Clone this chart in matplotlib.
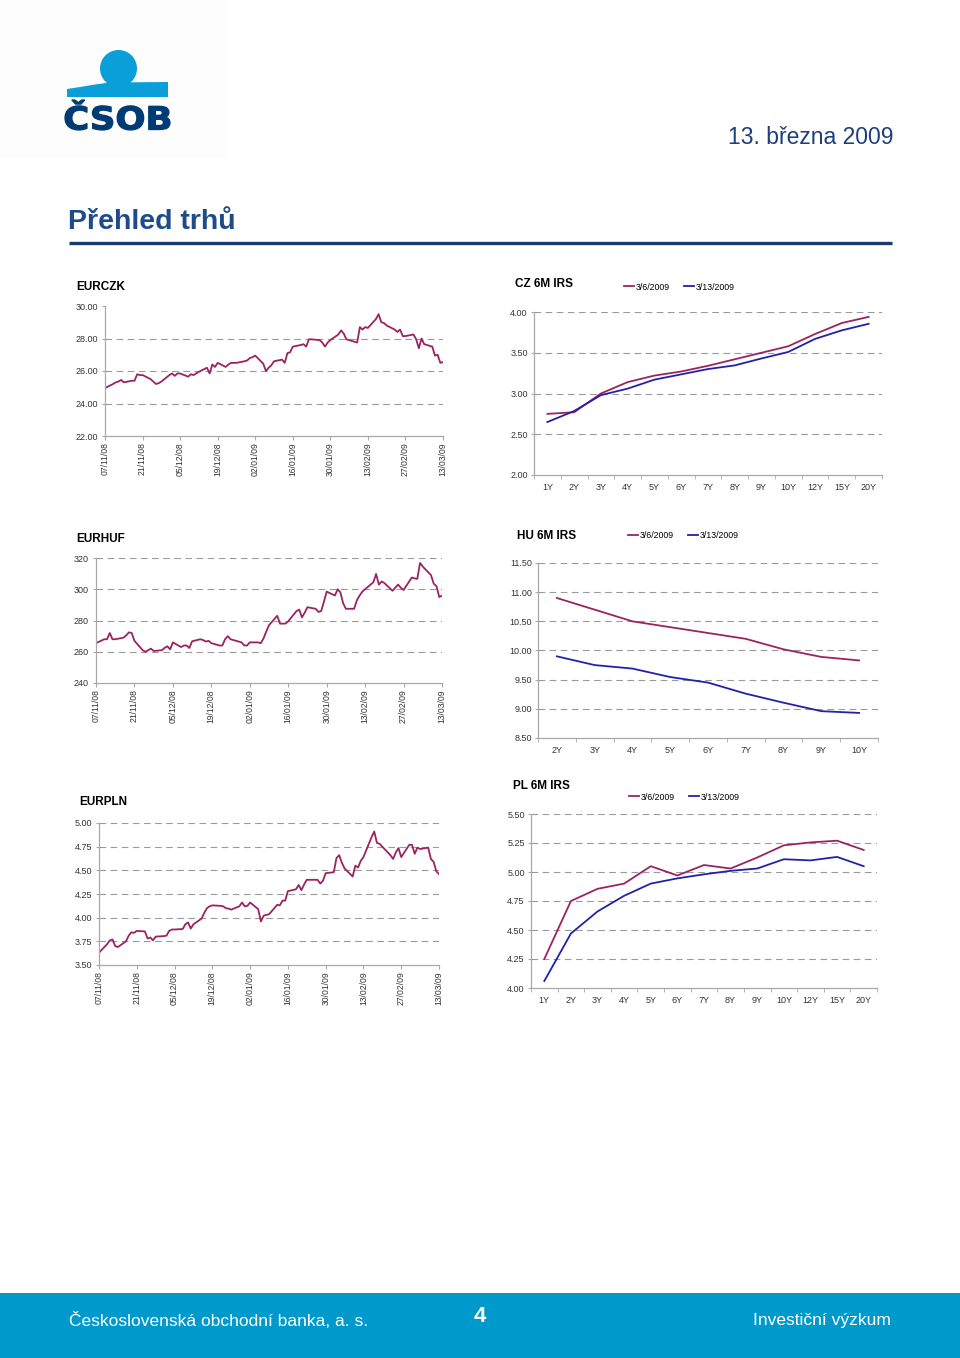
import matplotlib
matplotlib.use("Agg")
import matplotlib.pyplot as plt
from matplotlib.patches import Rectangle, Circle, Polygon, PathPatch
from matplotlib.textpath import TextPath
from matplotlib.font_manager import FontProperties
from matplotlib.transforms import Affine2D
import numpy as np
import pandas as pd

plt.rcParams["font.family"] = ["Liberation Sans", "DejaVu Sans"]

W, H = 960, 1358
RED = "#9b2460"
BLUE = "#2222a8"
NAVY = "#1c3f7c"
GRID = "#9a9a9a"
SPINE = "#a8a8a8"
TXT = "#333333"

# ---- data -------------------------------------------------------------
date_labels = ["07/11/08", "21/11/08", "05/12/08", "19/12/08", "02/01/09",
               "16/01/09", "30/01/09", "13/02/09", "27/02/09", "13/03/09"]
days = pd.bdate_range("2008-11-07", "2009-03-13")

eurczk = [24.95,
          25.2, 25.3, 25.35, 25.45, 25.3,
          25.4, 25.4, 25.8, 25.75, 25.75,
          25.5, 25.35, 25.2, 25.25, 25.35,
          25.75, 25.85, 25.7, 25.85, 25.85,
          25.65, 25.8, 25.75, 25.85, 25.95,
          26.2, 25.85, 26.4, 26.25, 26.5,
          26.25, 26.4, 26.5, 26.5, 26.5,
          26.6, 26.65, 26.8, 26.85, 26.95,
          26.45, 26.0, 26.2, 26.35, 26.6,
          26.7, 26.5, 27.1, 27.15, 27.5,
          27.6, 27.65, 27.5, 27.95, 27.95,
          27.9, 27.75, 27.5, 27.75, 27.9,
          28.25, 28.5, 28.3, 27.95, 27.9,
          27.75, 28.7, 28.55, 28.7, 28.65,
          29.2, 29.5, 29.0, 28.95, 28.8,
          28.55, 28.4, 28.55, 28.15, 28.15,
          28.25, 27.95, 27.4, 28.0, 27.65,
          27.5, 26.95, 27.0, 26.5, 26.55]

eurhuf = [265.5,
          268, 268, 272, 268, 268,
          269, 270.5, 272.4, 272, 267,
          261, 260, 261, 262, 260.5,
          261, 262.5, 263.5, 261.5, 266,
          263, 264, 264, 262.4, 266.7,
          268, 267.5, 266.5, 267, 265.5,
          264, 264, 268, 270, 268,
          266.5, 266, 264, 264, 266,
          266, 265.5, 268.5, 273, 277,
          283, 278, 278, 278, 279.5,
          286, 287, 282, 285, 288.5,
          287.5, 285.5, 286, 292, 298.5,
          296, 300, 298, 291, 287.5,
          287.5, 293, 296, 298.5, 300,
          304.5, 309.8, 303, 305, 304,
          299, 301, 303, 301, 299.5,
          307.5, 307, 306.6, 316.8, 314.5,
          309, 303.5, 302, 295, 295.9]

eurpln = [3.63,
          3.72, 3.76, 3.77, 3.70, 3.69,
          3.75, 3.81, 3.845, 3.84, 3.86,
          3.855, 3.78, 3.79, 3.76, 3.80,
          3.805, 3.81, 3.86, 3.875, 3.875,
          3.88, 3.93, 3.95, 3.885, 3.93,
          3.99, 4.05, 4.10, 4.12, 4.13,
          4.125, 4.12, 4.10, 4.095, 4.085,
          4.12, 4.16, 4.12, 4.125, 4.16,
          4.09, 3.96, 4.02, 4.03, 4.035,
          4.135, 4.13, 4.18, 4.18, 4.28,
          4.30, 4.345, 4.29, 4.35, 4.40,
          4.40, 4.40, 4.36, 4.39, 4.47,
          4.48, 4.63, 4.66, 4.58, 4.52,
          4.435, 4.55, 4.53, 4.60, 4.64,
          4.85, 4.91, 4.79, 4.78, 4.75,
          4.66, 4.62, 4.69, 4.735, 4.64,
          4.77, 4.77, 4.675, 4.74, 4.725,
          4.74, 4.62, 4.59, 4.49, 4.46]

series_names = ["3/6/2009", "3/13/2009"]

cz_tenors = ["1Y", "2Y", "3Y", "4Y", "5Y", "6Y", "7Y", "8Y", "9Y", "10Y", "12Y", "15Y", "20Y"]
cz_0306 = [2.75, 2.77, 3.00, 3.14, 3.22, 3.27, 3.34, 3.42, 3.50, 3.58, 3.73, 3.865, 3.94]
cz_0313 = [2.65, 2.785, 2.98, 3.06, 3.17, 3.235, 3.30, 3.345, 3.43, 3.51, 3.67, 3.775, 3.855]

hu_tenors = ["2Y", "3Y", "4Y", "5Y", "6Y", "7Y", "8Y", "9Y", "10Y"]
hu_0306 = [10.90, 10.70, 10.50, 10.40, 10.30, 10.20, 10.02, 9.89, 9.83]
hu_0313 = [9.90, 9.75, 9.69, 9.545, 9.45, 9.26, 9.105, 8.96, 8.93]

pl_tenors = cz_tenors
pl_0306 = [4.25, 4.75, 4.855, 4.90, 5.05, 4.97, 5.06, 5.03, 5.125, 5.23, 5.255, 5.27, 5.19]
pl_0313 = [4.06, 4.47, 4.66, 4.795, 4.90, 4.945, 4.98, 5.01, 5.03, 5.11, 5.10, 5.13, 5.05]


def px(x0, y0, x1, y1):
    return [x0 / W, 1 - y1 / H, (x1 - x0) / W, (y1 - y0) / H]


fig = plt.figure(figsize=(W / 100, H / 100), dpi=100)

# ---- page decoration --------------------------------------------------
bg = fig.add_axes([0, 0, 1, 1])
bg.set_xlim(0, W)
bg.set_ylim(H, 0)
bg.axis("off")

# faint box behind the logo
bg.add_patch(Rectangle((0, 0), 226, 158, color="#fdfdfd", lw=0))

bg.add_patch(Circle((118.5, 68.5), 18.5, color="#0a9fd8", lw=0))
bg.add_patch(Polygon([(67, 89), (80, 87), (95, 84.5), (110, 82.5), (168, 82),
                      (168, 97), (67, 97)], closed=True, color="#0a9fd8", lw=0))

# logo lettering stretched into its box (x 65-170, y 100-130)
tp = TextPath((0, 0), "ČSOB", size=1,
              prop=FontProperties(family="DejaVu Sans", weight="bold"))
ext = tp.get_extents()
sx = (170 - 65) / ext.width
sy = (130 - 100) / ext.height
tr = Affine2D().translate(-ext.x0, -ext.y0).scale(sx, -sy).translate(65, 130)
bg.add_patch(PathPatch(tr.transform_path(tp), facecolor="#003b73",
                       edgecolor="#003b73", lw=0.9))

bg.text(893, 138, "13. března 2009", fontsize=16.5, color=NAVY, ha="right", va="center")
bg.text(68, 222, "Přehled trhů", fontsize=20.5, fontweight="bold", color="#1f4b8a",
        ha="left", va="center")
bg.plot([69, 892], [243, 243], color="#1a3a6e", lw=2.4, solid_capstyle="butt")

bg.add_patch(Rectangle((0, 1293), W, 65, color="#0099cc", lw=0))
bg.text(69, 1321, "Československá obchodní banka, a. s.", fontsize=12.5, color="white",
        ha="left", va="center")
bg.text(480, 1317, "4", fontsize=16, fontweight="bold", color="white", ha="center", va="center")
bg.text(891, 1321, "Investiční výzkum", fontsize=12.5, color="white", ha="right", va="center")


def style_axes(ax):
    for s in ["top", "right"]:
        ax.spines[s].set_visible(False)
    for s in ["left", "bottom"]:
        ax.spines[s].set_color(SPINE)
        ax.spines[s].set_linewidth(0.9)
    ax.tick_params(colors=SPINE, labelcolor=TXT, labelsize=6.5, width=0.8)
    ax.set_facecolor("none")


def fx_chart(rect, values, yticks, fmt, grid_vals, title, title_xy):
    ax = fig.add_axes(px(*rect))
    style_axes(ax)
    for v in grid_vals:
        ax.axhline(v, color=GRID, lw=0.8, ls=(0, (6, 4)), zorder=0)
    ax.plot(days, values, color=RED, lw=1.3)
    tick_dates = pd.to_datetime(date_labels, format="%d/%m/%y")
    ax.set_xlim(days[0], days[-1])
    ax.set_xticks(tick_dates)
    ax.set_xticklabels(date_labels, rotation=90, fontsize=6.2)
    ax.tick_params(axis="x", length=3, pad=1.5)
    ax.set_ylim(yticks[0], yticks[-1])
    ax.set_yticks(yticks)
    ax.set_yticklabels([fmt.format(v) for v in yticks])
    ax.tick_params(axis="y", length=2.5, pad=2.5)
    bg.text(title_xy[0], title_xy[1], title, fontsize=8.5, fontweight="bold",
            ha="left", va="center")
    return ax


def irs_chart(rect, tenors, s1, s2, yticks, title, title_xy, leg_xy):
    ax = fig.add_axes(px(*rect))
    style_axes(ax)
    x = np.arange(len(tenors))
    for v in yticks[1:]:
        ax.axhline(v, color=GRID, lw=0.8, ls=(0, (6, 4)), zorder=0)
    l1, = ax.plot(x, s1, color=RED, lw=1.3)
    l2, = ax.plot(x, s2, color=BLUE, lw=1.3)
    ax.set_xlim(-0.5, len(tenors) - 0.5)
    ax.set_xticks(x)
    ax.set_xticklabels(tenors)
    ax.set_xticks(np.arange(len(tenors) + 1) - 0.5, minor=True)
    ax.tick_params(axis="x", which="major", length=0, pad=6)
    ax.tick_params(axis="x", which="minor", length=3, color=SPINE)
    ax.set_ylim(yticks[0], yticks[-1])
    ax.set_yticks(yticks)
    ax.set_yticklabels(["{:.2f}".format(v) for v in yticks])
    ax.tick_params(axis="y", length=2.5, pad=2)
    bg.text(title_xy[0], title_xy[1], title, fontsize=8.5, fontweight="bold",
            ha="left", va="center")
    ax.legend([l1, l2], series_names, loc="center left", ncol=2, frameon=False,
              fontsize=6.3, handlelength=1.1, handletextpad=0.25, columnspacing=1.6,
              borderpad=0, borderaxespad=0,
              bbox_to_anchor=(leg_xy[0] / W, 1 - leg_xy[1] / H),
              bbox_transform=fig.transFigure)
    return ax


fx_chart((105, 306, 443, 436), eurczk, [22, 24, 26, 28, 30], "{:.2f}",
         [24, 26, 28], "EURCZK", (76, 287))
fx_chart((96, 558, 442, 683), eurhuf, [240, 260, 280, 300, 320], "{:.0f}",
         [260, 280, 300, 320], "EURHUF", (76, 539))
fx_chart((99, 823, 439, 965), eurpln, [3.5, 3.75, 4.0, 4.25, 4.5, 4.75, 5.0], "{:.2f}",
         [3.75, 4.0, 4.25, 4.5, 4.75, 5.0], "EURPLN", (79, 802))

irs_chart((534, 312, 882, 475), cz_tenors, cz_0306, cz_0313,
          [2.0, 2.5, 3.0, 3.5, 4.0], "CZ 6M IRS", (515, 284), (624, 287))
irs_chart((538, 563, 878, 738), hu_tenors, hu_0306, hu_0313,
          [8.5, 9.0, 9.5, 10.0, 10.5, 11.0, 11.5], "HU 6M IRS", (517, 536), (628, 536))
irs_chart((531, 814, 877, 988), pl_tenors, pl_0306, pl_0313,
          [4.0, 4.25, 4.5, 4.75, 5.0, 5.25, 5.5], "PL 6M IRS", (513, 786), (629, 797))

fig.savefig("out.png", dpi=100)
